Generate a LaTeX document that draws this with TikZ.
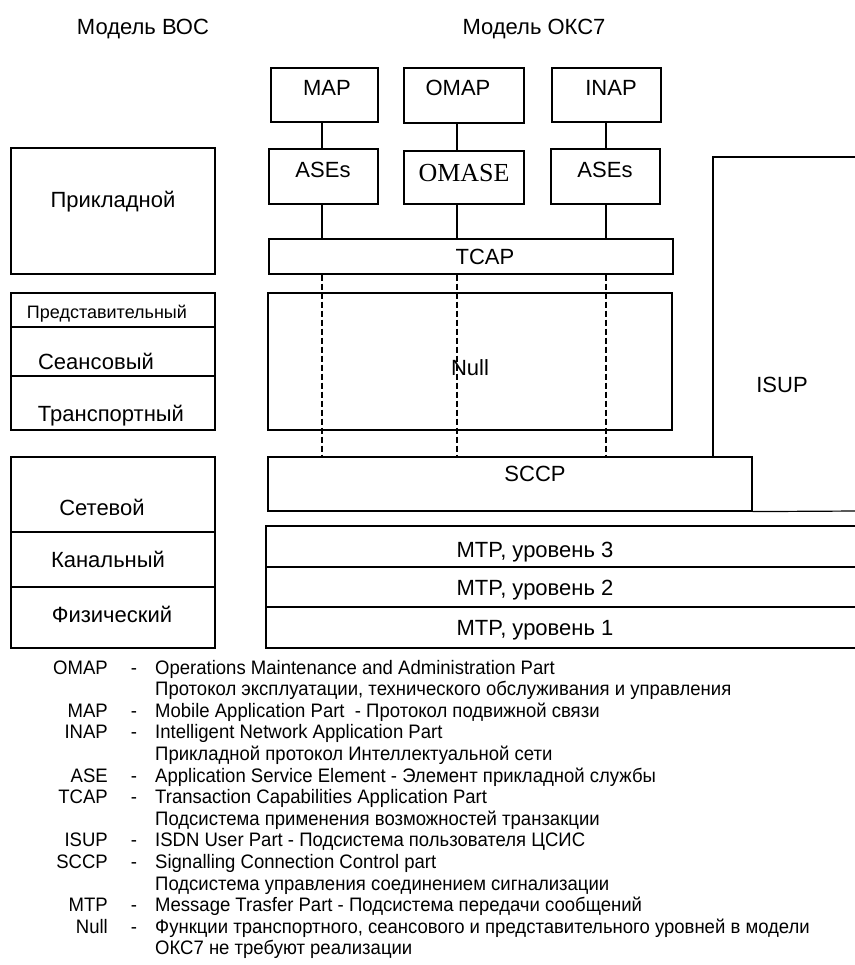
\documentclass[tikz,border=0pt]{standalone}
\usepackage{fontspec}
\setmainfont{Liberation Sans}
\newfontfamily\legfont{Liberation Sans}[FakeStretch=0.95]
\newfontfamily\omasefont{Liberation Serif}
\usetikzlibrary{fit}
\tikzset{
  box/.style={draw, line width=1.2pt, inner sep=0pt},
  conn/.style={line width=1.2pt},
  dline/.style={line width=1.1pt, dash pattern=on 6pt off 3pt},
  lbl/.style={inner sep=0pt, font=\fontsize{22}{26}\selectfont, text height=15.8pt, text depth=0pt},
  smalllbl/.style={inner sep=0pt, font=\fontsize{18}{22}\selectfont, text height=12.9pt, text depth=0pt},
  seriflbl/.style={inner sep=0pt, font=\omasefont\fontsize{26}{30}\selectfont, text height=17.2pt, text depth=0pt},
  leg/.style={inner sep=0pt, font=\legfont\fontsize{19.5}{23}\selectfont, text height=14pt, text depth=0pt},
  abbr/.style={leg, anchor=east},
  desc/.style={leg, anchor=west},
  dashmark/.style={leg}
}
\begin{document}
\begin{tikzpicture}[x=1pt,y=-1pt]
\useasboundingbox (0,0) rectangle (854,965);
% titles
\node[lbl] (t1) at (143,27) {Модель ВОС};
\node[lbl] (t2) at (534,27) {Модель ОКС7};
% OSI column
\node[box, fit={(11,148) (215,274)}] (app) {};
\node[lbl] (tapp) at (113,200) {Прикладной};
\node[box, fit={(11,293) (215,327)}] (pres) {};
\node[box, fit={(11,327) (215,376)}] (sess) {};
\node[box, fit={(11,376) (215,430)}] (trans) {};
\node[smalllbl] (tpres) at (107,312) {Представительный};
\node[lbl] (tsess) at (96,362) {Сеансовый};
\node[lbl] (ttrans) at (111,414) {Транспортный};
\node[box, fit={(11,457) (215,532)}] (net) {};
\node[box, fit={(11,532) (215,587)}] (link) {};
\node[box, fit={(11,587) (215,648)}] (phys) {};
\node[lbl] (tnet) at (102,508) {Сетевой};
\node[lbl] (tlink) at (108,560) {Канальный};
\node[lbl] (tphys) at (112,615) {Физический};
% SS7 column
\node[box, fit={(271,68) (378,122)}] (map) {};
\node[box, fit={(404,68) (524,123)}] (omap) {};
\node[box, fit={(552,68) (661,122)}] (inap) {};
\node[lbl] (tmap) at (327,88) {MAP};
\node[lbl] (tomap) at (458,88) {OMAP};
\node[lbl] (tinap) at (611,88) {INAP};
\node[box, fit={(269,149) (378,204)}] (ases1) {};
\node[box, fit={(404,151) (524,204)}] (omase) {};
\node[box, fit={(551,149) (660,204)}] (ases2) {};
\node[lbl] (tases1) at (323,170) {ASEs};
\node[seriflbl] (tomase) at (464,173) {OMASE};
\node[lbl] (tases2) at (605,170) {ASEs};
\node[box, fit={(269,239) (673,274)}] (tcap) {};
\node[lbl] (ttcap) at (485,257) {TCAP};
\node[box, fit={(268,293) (672,430)}] (null) {};
\node[lbl] (tnull) at (470,368) {Null};
\node[box, fit={(268,457) (752,511)}] (sccp) {};
\node[lbl] (tsccp) at (535,474) {SCCP};
\node[box, fit={(266,526) (862,567)}] (mtp3) {};
\node[box, fit={(266,567) (862,607)}] (mtp2) {};
\node[box, fit={(266,607) (862,648)}] (mtp1) {};
\node[lbl] (tmtp3) at (535,550) {MTP, уровень 3};
\node[lbl] (tmtp2) at (535,588) {MTP, уровень 2};
\node[lbl] (tmtp1) at (535,628) {MTP, уровень 1};
% connector columns
\coordinate (x1) at (322,0);
\coordinate (x2) at (457,0);
\coordinate (x3) at (606,0);
\draw[conn] (map.south -| x1) -- (ases1.north -| x1);
\draw[conn] (omap.south -| x2) -- (omase.north -| x2);
\draw[conn] (inap.south -| x3) -- (ases2.north -| x3);
\draw[conn] (ases1.south -| x1) -- (tcap.north -| x1);
\draw[conn] (omase.south -| x2) -- (tcap.north -| x2);
\draw[conn] (ases2.south -| x3) -- (tcap.north -| x3);
\draw[dline] (tcap.south -| x1) -- (sccp.north -| x1);
\draw[dline] (tcap.south -| x2) -- (sccp.north -| x2);
\draw[dline] (tcap.south -| x3) -- (sccp.north -| x3);
% ISUP
\coordinate (isuptl) at (713,157);
\coordinate (isuptr) at (858,157);
\coordinate (isupbr) at (858,511);
\draw[conn] (sccp.north -| isuptl) -- (isuptl) -- (isuptr);
\draw[conn] (sccp.south east) -- (isupbr);
\node[lbl] (tisup) at (782,385) {ISUP};
% legend
\node[abbr] (a0) at (108,667) {OMAP};
\node[dashmark] (d0) at (134,667) {-};
\node[desc] (e0) at (155,667) {Operations Maintenance and Administration Part};
\node[desc] (e1) at (155,688.6) {Протокол эксплуатации, технического обслуживания и управления};
\node[abbr] (a2) at (108,710.2) {MAP};
\node[dashmark] (d2) at (134,710.2) {-};
\node[desc] (e2) at (155,710.2) {Mobile Application Part\ \ - Протокол подвижной связи};
\node[abbr] (a3) at (108,731.8) {INAP};
\node[dashmark] (d3) at (134,731.8) {-};
\node[desc] (e3) at (155,731.8) {Intelligent Network Application Part};
\node[desc] (e4) at (155,753.4) {Прикладной протокол Интеллектуальной сети};
\node[abbr] (a5) at (108,775) {ASE};
\node[dashmark] (d5) at (134,775) {-};
\node[desc] (e5) at (155,775) {Application Service Element - Элемент прикладной службы};
\node[abbr] (a6) at (108,796.6) {TCAP};
\node[dashmark] (d6) at (134,796.6) {-};
\node[desc] (e6) at (155,796.6) {Transaction Capabilities Application Part};
\node[desc] (e7) at (155,818.2) {Подсистема применения возможностей транзакции};
\node[abbr] (a8) at (108,839.8) {ISUP};
\node[dashmark] (d8) at (134,839.8) {-};
\node[desc] (e8) at (155,839.8) {ISDN User Part - Подсистема пользователя ЦСИС};
\node[abbr] (a9) at (108,861.4) {SCCP};
\node[dashmark] (d9) at (134,861.4) {-};
\node[desc] (e9) at (155,861.4) {Signalling Connection Control part};
\node[desc] (e10) at (155,883) {Подсистема управления соединением сигнализации};
\node[abbr] (a11) at (108,904.6) {MTP};
\node[dashmark] (d11) at (134,904.6) {-};
\node[desc] (e11) at (155,904.6) {Message Trasfer Part - Подсистема передачи сообщений};
\node[abbr] (a12) at (108,926.2) {Null};
\node[dashmark] (d12) at (134,926.2) {-};
\node[desc] (e12) at (155,926.2) {Функции транспортного, сеансового и представительного уровней в модели};
\node[desc] (e13) at (155,947.8) {ОКС7 не требуют реализации};
\end{tikzpicture}
\end{document}
